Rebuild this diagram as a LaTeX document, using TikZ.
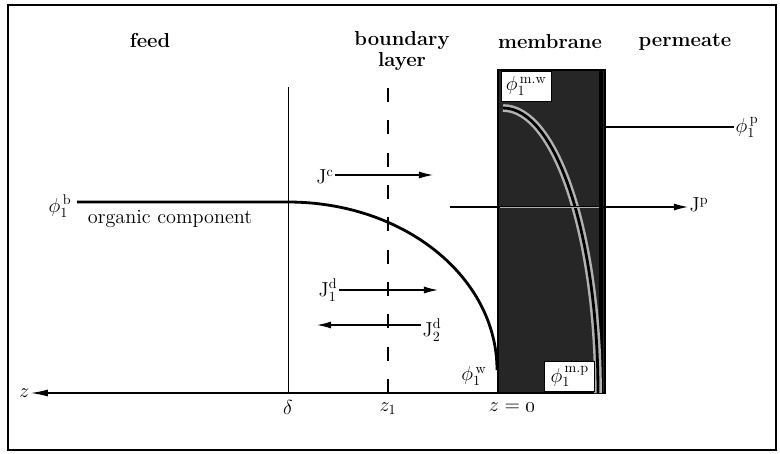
\documentclass[tikz,border=0pt]{standalone}
\usetikzlibrary{arrows.meta}

\begin{document}
\begin{tikzpicture}[
  x=0.025cm, y=-0.025cm,
  heading/.style={font=\Large\bfseries, align=center},
  lbl/.style={font=\Large, inner sep=1pt},
  flux/.style={thick, -{Latex[length=10pt, width=5pt]}},
  profile/.style={line width=2pt, draw=black},
  halo/.style={line width=5.5pt, draw=black!30},
  boxlbl/.style={draw=black, fill=white, thin, font=\Large, inner sep=1pt, minimum width=50*0.025cm, minimum height=30*0.025cm}
]
  \useasboundingbox (0,0) rectangle (780,453);

  % --- Marco ---
  \draw[thick] (8,5) rectangle (776,450);

  % --- Titulos de las zonas ---
  \node[heading] (feed) at (150,40) {feed};
  \node[heading] (blayer) at (402,51) {boundary\\[-3pt]layer};
  \node[heading] (memb) at (550,42) {membrane};
  \node[heading] (perm) at (685,42) {permeate};

  % --- Lineas verticales: delta y z_1 ---
  \coordinate (dtop) at (288,87);
  \coordinate (dbot) at (288,393);
  \coordinate (ztop) at (388,88);
  \coordinate (zbot) at (388,393);
  \draw[thin] (dtop) -- (dbot);
  \draw[thick, dash pattern=on 10pt off 13pt] (ztop) -- (zbot);

  % --- Membrana ---
  \coordinate (mtl) at (498,70);
  \coordinate (mbr) at (605,393);
  \fill[black!85] (mtl) rectangle (mbr);
  \draw[line width=1.5pt] (mtl) rectangle (mbr);
  \draw[line width=3pt] (601,70) -- (601,393);

  % perfil dentro de la membrana
  \coordinate (mw) at (503,108);
  \coordinate (mp) at (598,393);
  \draw[halo] (mw) .. controls (556,108) and (598,236) .. (mp);
  \draw[profile] (mw) .. controls (556,108) and (598,236) .. (mp);

  % etiquetas en la membrana
  \node[boxlbl, anchor=north west] (phimw) at (501,71) {$\phi_1^{\,\mathrm{m.w}}$};
  \node[boxlbl, anchor=south east] (phimp) at (595,392) {$\phi_1^{\,\mathrm{m.p}}$};

  % --- Perfil en la alimentacion y capa limite ---
  \coordinate (bstart) at (77,202);
  \coordinate (bend) at (288,202);
  \coordinate (wall) at (497,370);
  \node[lbl, anchor=east] (phib) at (73,206) {$\phi_1^{\,\mathrm{b}}$};
  \node[lbl] (organic) at (170,219) {organic component};
  \draw[profile] (bstart) -- (bend) .. controls (404,202) and (497,277) .. (wall);
  \node[lbl] (phiw) at (474,376) {$\phi_1^{\,\mathrm{w}}$};

  % --- Permeado ---
  \coordinate (pstart) at (605,127);
  \node[lbl, anchor=west] (phip) at (734,127) {$\phi_1^{\,\mathrm{p}}$};
  \draw[profile] (pstart) -- (phip.west);

  % --- Flujos ---
  \node[lbl] (Jc) at (325,177) {$\mathrm{J}^{\mathrm{c}}$};
  \coordinate (Jcend) at (433,175);
  \draw[flux] (Jc.east |- Jcend) -- (Jcend);

  \coordinate (Jpstart) at (450,207);
  \node[lbl, anchor=west] (Jp) at (688,205) {$\mathrm{J}^{\mathrm{p}}$};
  \draw[flux] (Jpstart) -- (Jp.west |- Jpstart);
  \draw[black!30, thin] (500,207) -- (599,207);

  \node[lbl] (J1d) at (328,290) {$\mathrm{J}_1^{\mathrm{d}}$};
  \coordinate (J1end) at (438,290);
  \draw[flux] (J1d.east |- J1end) -- (J1end);

  \node[lbl] (J2d) at (432,330) {$\mathrm{J}_2^{\mathrm{d}}$};
  \coordinate (J2end) at (317,325);
  \draw[flux] (J2d.west |- J2end) -- (J2end);

  % --- Eje z ---
  \node[lbl, anchor=east] (zaxis) at (31,393) {$z$};
  \draw[thick, -{Latex[length=12pt, width=5pt]}] (mtl |- mbr) -- (zaxis.east);
  \node[lbl] (delta) at (288,407) {$\delta$};
  \node[lbl] (zone) at (388,409) {$z_1$};
  \node[lbl] (zzero) at (512,407) {$z = \mbox{\oldstylenums{0}}$};
\end{tikzpicture}
\end{document}
